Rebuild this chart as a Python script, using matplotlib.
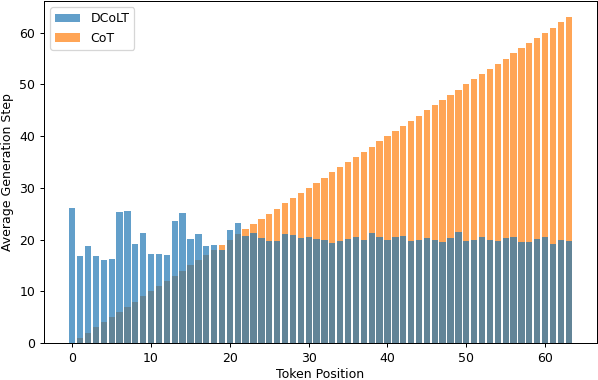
import numpy as np
import matplotlib
matplotlib.use('Agg')
import matplotlib.pyplot as plt

# token positions 0..63
positions = list(range(64))

# average generation step per token position
dcolt_steps = [26.2, 16.9, 18.7, 16.9, 16.0, 16.2, 25.3, 25.5, 19.1, 21.2,
               17.3, 17.3, 17.1, 23.6, 25.1, 20.1, 21.0, 18.7, 18.9, 18.0,
               21.9, 23.2, 20.7, 21.3, 20.3, 19.7, 19.7, 21.0, 20.8, 20.3,
               20.5, 20.1, 20.0, 19.3, 19.8, 20.1, 20.5, 20.0, 21.2, 20.5,
               20.0, 20.5, 20.7, 19.8, 20.0, 20.3, 20.0, 19.6, 20.3, 21.4,
               19.8, 20.0, 20.5, 20.0, 19.7, 20.3, 20.5, 19.6, 19.6, 20.1,
               20.5, 19.2, 20.0, 19.7]
cot_steps = [0, 1, 2, 3, 4, 5, 6, 7, 8, 9,
             10, 11, 12, 13, 14, 15, 16, 17, 18, 19,
             20, 21, 22, 23, 24, 25, 26, 27, 28, 29,
             30, 31, 32, 33, 34, 35, 36, 37, 38, 39,
             40, 41, 42, 43, 44, 45, 46, 47, 48, 49,
             50, 51, 52, 53, 54, 55, 56, 57, 58, 59,
             60, 61, 62, 63]

# the reference looks like a slightly downscaled default figure -> dpi 90
dpi = 90
fig = plt.figure(figsize=(598 / dpi, 380 / dpi), dpi=dpi)
ax = fig.add_axes([44 / 598, 37 / 380, 553 / 598, 342 / 380])

# CoT underneath, DCoLT on top -> overlap turns grey-blue
b_cot = ax.bar(positions, cot_steps, color='tab:orange', alpha=0.7, label='CoT')
b_dcolt = ax.bar(positions, dcolt_steps, color='tab:blue', alpha=0.7, label='DCoLT')

ax.set_xlabel('Token Position', labelpad=2.5)
ax.set_ylabel('Average Generation Step')
ax.legend(handles=[b_dcolt, b_cot], loc='upper left')

plt.savefig('out.png', dpi=dpi)
